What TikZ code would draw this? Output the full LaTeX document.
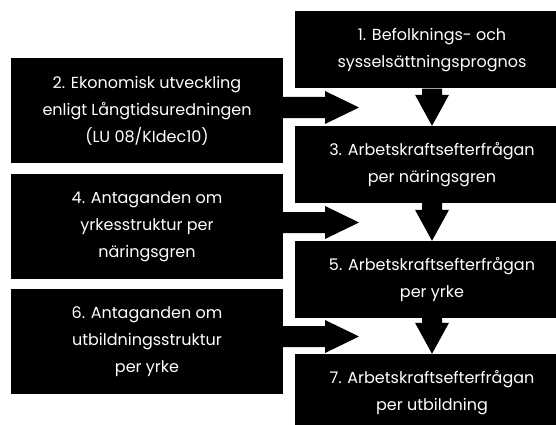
\documentclass[tikz,border=0pt]{standalone}
\usepackage{fontspec}
\setmainfont{Poppins}
\usetikzlibrary{calc}
\tikzset{
  blk/.style={fill=black, text=white, inner sep=0pt, align=center,
    font=\fontsize{16}{27}\selectfont},
  leftbox/.style={blk, minimum width=272pt, minimum height=105pt},
  rightbox/.style={blk, minimum width=274pt, minimum height=77pt},
  arrowfill/.style={fill=black}
}
\newcommand\HBlockArrow[2]{%
  \fill[arrowfill] let \p1=(#1), \p2=(#2) in
    (\x1,\y2+10.5pt) -- (\x2-34pt,\y2+10.5pt) -- (\x2-34pt,\y2+16.5pt) -- (\p2)
    -- (\x2-34pt,\y2-16.5pt) -- (\x2-34pt,\y2-10.5pt) -- (\x1,\y2-10.5pt) -- cycle;}
\newcommand\VBlockArrow[2]{%
  \fill[arrowfill] let \p1=(#1), \p2=(#2) in
    (\x1-10pt,\y1) -- (\x1-10pt,\y2+31pt) -- (\x1-17pt,\y2+31pt) -- (\x1,\y2)
    -- (\x1+17pt,\y2+31pt) -- (\x1+10pt,\y2+31pt) -- (\x1+10pt,\y1) -- cycle;}
\begin{document}
\begin{tikzpicture}[x=1pt,y=-1pt]
\useasboundingbox (0,0) rectangle (556,425);
\clip (0,0) rectangle (556,425);
% right column
\node[rightbox] (b1) at (432,50) {1. Befolknings- och\\sysselsättningsprognos};
\node[rightbox] (b3) at (432,164.5) {3. Arbetskraftsefterfrågan\\per näringsgren};
\node[rightbox] (b5) at (432,279.5) {5. Arbetskraftsefterfrågan\\per yrke};
\node[rightbox] (b7) at (432,392.5) {7. Arbetskraftsefterfrågan\\per utbildning};
% left column
\node[leftbox] (b2) at (147,110.5) {2. Ekonomisk utveckling\\enligt Långtidsuredningen\\(LU 08/KIdec10)};
\node[leftbox] (b4) at (147,226.5) {4. Antaganden om\\yrkesstruktur per\\näringsgren};
\node[leftbox] (b6) at (147,341.5) {6. Antaganden om\\utbildningsstruktur\\per yrke};
% arrow tips
\coordinate (t2) at (359,107.5);
\coordinate (t4) at (359,222.5);
\coordinate (t6) at (359,336.5);
\HBlockArrow{b2.east}{t2}
\HBlockArrow{b4.east}{t4}
\HBlockArrow{b6.east}{t6}
\VBlockArrow{b1.south}{b3.north}
\VBlockArrow{b3.south}{b5.north}
\VBlockArrow{b5.south}{b7.north}
\end{tikzpicture}
\end{document}
